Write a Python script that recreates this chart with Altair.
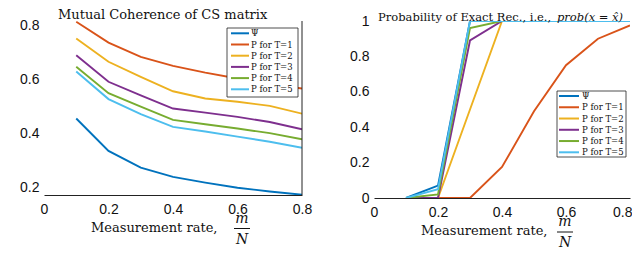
import altair as alt
import pandas as pd

rate = [0.1, 0.2, 0.3, 0.4, 0.5, 0.6, 0.7, 0.8]
series = ["Ψ", "P for T=1", "P for T=2", "P for T=3", "P for T=4", "P for T=5"]
colors = ["#0072BD", "#D95319", "#EDB120", "#7E2F8E", "#77AC30", "#4DBEEE"]

# Left panel: mutual coherence
coh_psi = [0.457, 0.337, 0.275, 0.241, 0.220, 0.201, 0.187, 0.175]
coh_t1 = [0.815, 0.738, 0.685, 0.652, 0.627, 0.605, 0.585, 0.568]
coh_t2 = [0.753, 0.667, 0.611, 0.558, 0.531, 0.519, 0.504, 0.475]
coh_t3 = [0.691, 0.593, 0.543, 0.494, 0.479, 0.463, 0.444, 0.417]
coh_t4 = [0.649, 0.551, 0.501, 0.452, 0.436, 0.420, 0.403, 0.380]
coh_t5 = [0.631, 0.529, 0.473, 0.426, 0.409, 0.390, 0.371, 0.349]

# Right panel: probability of exact recovery
prob_psi = [0.0, 0.07, 1.0, 1.0, 1.0, 1.0, 1.0, 1.0]
prob_t1 = [0.0, 0.0, 0.0, 0.175, 0.49, 0.75, 0.90, 0.975]
prob_t2 = [0.0, 0.0, 0.5, 1.0, 1.0, 1.0, 1.0, 1.0]
prob_t3 = [0.0, 0.0, 0.89, 1.0, 1.0, 1.0, 1.0, 1.0]
prob_t4 = [0.0, 0.02, 0.96, 1.0, 1.0, 1.0, 1.0, 1.0]
prob_t5 = [0.0, 0.05, 1.0, 1.0, 1.0, 1.0, 1.0, 1.0]

x_ticks = [0, 0.2, 0.4, 0.6, 0.8]
left_y_ticks = [0.2, 0.4, 0.6, 0.8]
right_y_ticks = [0, 0.2, 0.4, 0.6, 0.8, 1]

left_title = "Mutual Coherence of CS matrix"
right_title_a = "Probability of Exact Rec., i.e.,"
right_title_b = "prob(x = x̂)"
x_title = "Measurement rate,"
frac_num = "m"
frac_den = "N"

SERIF = "DejaVu Serif"
SANS = "Liberation Sans"


def long_df(cols):
    rows = []
    for i, (name, vals) in enumerate(zip(series, cols)):
        for r, v in zip(rate, vals):
            rows.append({"rate": r, "value": v, "series": name, "order": i})
    return pd.DataFrame(rows)


left_df = long_df([coh_psi, coh_t1, coh_t2, coh_t3, coh_t4, coh_t5])
right_df = long_df([prob_psi, prob_t1, prob_t2, prob_t3, prob_t4, prob_t5])
legend_df = pd.DataFrame({"series": series, "idx": list(range(len(series)))})

color_scale = alt.Scale(domain=series, range=colors)


def one(text):
    return pd.DataFrame({"t": [text]})


def panel(df, ydomain, yticks, titles, legend_box, legend_sym, legend_text_x,
          legend_range, xt, frac, last_label_right=False):
    xaxis_kw = dict(values=x_ticks, format="~g", title=None, ticks=False, grid=False,
                    domain=True, domainColor="#222", domainWidth=1,
                    labelFont=SANS, labelFontSize=14, labelColor="#111",
                    labelPadding=7, labelFlush=False)
    if last_label_right:
        xaxis_kw["labelAlign"] = {"condition": {"test": "datum.value >= 0.79", "value": "right"},
                                  "value": "center"}
        xaxis_kw["labelOffset"] = {"condition": {"test": "datum.value >= 0.79", "value": 2},
                                   "value": 0}
    base_x = alt.X(
        "rate:Q",
        scale=alt.Scale(domain=[0, 0.8], nice=False),
        axis=alt.Axis(**xaxis_kw),
    )
    base_y = alt.Y(
        "value:Q",
        scale=alt.Scale(domain=ydomain, nice=False, zero=False),
        axis=alt.Axis(values=yticks, format="~g", title=None, ticks=False, grid=False,
                      domain=False, labelFont=SANS, labelFontSize=14,
                      labelColor="#111", labelPadding=5, labelFlush=False),
    )
    lines = alt.Chart(df).mark_line(strokeWidth=1.9, clip=True).encode(
        x=base_x,
        y=base_y,
        color=alt.Color("series:N", scale=color_scale, legend=None),
        order="rate:Q",
    )
    layers = [lines]

    for (txt, tx, ty, fs, style) in titles:
        layers.append(
            alt.Chart(one(txt)).mark_text(
                font=SERIF, fontSize=fs, align="left", baseline="top",
                fontStyle=style, color="#111",
            ).encode(x=alt.value(tx), y=alt.value(ty), text="t:N")
        )

    bx1, bx2, by1, by2 = legend_box
    layers.append(
        alt.Chart(one("box")).mark_rect(fill="white", stroke="#222", strokeWidth=0.8).encode(
            x=alt.value(bx1), x2=alt.value(bx2), y=alt.value(by1), y2=alt.value(by2)
        )
    )
    ly = alt.Y("idx:Q", scale=alt.Scale(domain=[0, 5], range=legend_range), axis=None)
    layers.append(
        alt.Chart(legend_df).mark_rule(strokeWidth=2).encode(
            x=alt.value(legend_sym[0]), x2=alt.value(legend_sym[1]), y=ly,
            color=alt.Color("series:N", scale=color_scale, legend=None),
        )
    )
    layers.append(
        alt.Chart(legend_df).mark_text(
            font=SERIF, fontSize=8.5, align="left", baseline="middle", color="#111"
        ).encode(x=alt.value(legend_text_x), y=ly, text="series:N")
    )

    xtx, xty = xt
    layers.append(
        alt.Chart(one(x_title)).mark_text(
            font=SERIF, fontSize=13, align="left", baseline="alphabetic", color="#111"
        ).encode(x=alt.value(xtx), y=alt.value(xty), text="t:N")
    )
    fx, fy_num, fy_bar, fy_den, fb1, fb2 = frac
    layers.append(
        alt.Chart(one(frac_num)).mark_text(
            font=SERIF, fontSize=14, fontStyle="italic", align="center",
            baseline="alphabetic", color="#111"
        ).encode(x=alt.value(fx), y=alt.value(fy_num), text="t:N")
    )
    layers.append(
        alt.Chart(one("bar")).mark_rule(color="#111", strokeWidth=1).encode(
            x=alt.value(fb1), x2=alt.value(fb2), y=alt.value(fy_bar)
        )
    )
    layers.append(
        alt.Chart(one(frac_den)).mark_text(
            font=SERIF, fontSize=14, fontStyle="italic", align="center",
            baseline="alphabetic", color="#111"
        ).encode(x=alt.value(fx), y=alt.value(fy_den), text="t:N")
    )
    return layers


left_layers = panel(
    left_df, [0.174, 0.818], left_y_ticks,
    titles=[(left_title, 14, -12, 13, "normal")],
    legend_box=(183, 254, 7, 76), legend_sym=(187, 205), legend_text_x=207,
    legend_range=[12.3, 68.3],
    xt=(47, 211), frac=(198, 202, 207.5, 223, 190, 206),
)
left_layers.append(
    alt.Chart(one("frame")).mark_rule(color="#222", strokeWidth=1).encode(
        x=alt.value(258), y=alt.value(0), y2=alt.value(174)
    )
)
left = alt.layer(*left_layers).resolve_scale(y="independent").properties(width=258, height=174)

right_layers = panel(
    right_df, [0, 1], right_y_ticks,
    titles=[(right_title_a, 4, -9.5, 11.5, "normal"), (right_title_b, 183, -9, 11.5, "italic")],
    legend_box=(183, 252, 70, 136), legend_sym=(185, 205), legend_text_x=208,
    legend_range=[75, 131.3],
    xt=(47, 214), frac=(191, 205, 211, 226, 183, 199),
    last_label_right=True,
)
right = alt.layer(*right_layers).resolve_scale(y="independent").properties(width=256, height=177)

chart = alt.hconcat(left, right, spacing=37).properties(
    padding={"left": 11, "top": 1, "right": 0, "bottom": 0}
).configure_view(stroke=None)

chart.save("out.html", embed_options={"renderer": "svg", "actions": False})
